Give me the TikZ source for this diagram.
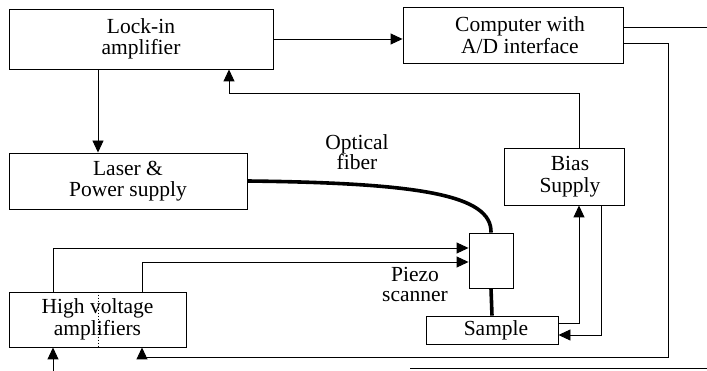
\documentclass[tikz,border=0pt]{standalone}
\usepackage{fontspec}
\setmainfont{Liberation Serif}
\usetikzlibrary{arrows.meta}
\begin{document}
\begin{tikzpicture}[x=1pt,y=-1pt,
  box/.style={draw, line width=0.9pt, rectangle, inner sep=0pt, align=center, font=\fontsize{21.5}{21.5}\selectfont},
  lbl/.style={align=center, inner sep=0pt, font=\fontsize{21.5}{20}\selectfont},
  conn/.style={line width=0.9pt},
  arr/.style={conn, -{Triangle[length=12pt,width=11pt]}},
  fiber/.style={line width=3.6pt},
  dotline/.style={line width=0.7pt, dash pattern=on 1.5pt off 1.5pt}]
\useasboundingbox (0,0) rectangle (707,371);

\node[box, minimum width=264pt, minimum height=60pt] (lock) at (141,39) {Lock-in\\amplifier};
\node[box, minimum width=220pt, minimum height=56pt] (comp) at (513,35) {\hspace*{14pt}Computer with\\\hspace*{14pt}A/D interface};
\node[box, minimum width=238pt, minimum height=56pt] (laser) at (128,181) {Laser \&\\Power supply};
\node[box, minimum width=120pt, minimum height=57pt] (bias) at (564,176.5) {\hspace*{12pt}Bias\\\hspace*{12pt}Supply};
\node[box, minimum width=44pt, minimum height=55pt] (piezo) at (491,260.5) {};
\node[box, minimum width=177pt, minimum height=55pt] (hv) at (97.5,319.5) {High voltage\\amplifiers};
\node[box, minimum width=132pt, minimum height=28pt] (sample) at (492,330) {\hspace*{8pt}Sample};

\node[lbl] (optlbl) at (357,152) {Optical\\fiber};
\node[lbl] (pzlbl) at (415,284) {Piezo\\scanner};

% lock-in -> computer
\draw[arr] (lock.east) -- (lock.east -| comp.west);
% lock-in -> laser
\coordinate (d1) at (98,0);
\draw[arr] (d1 |- lock.south) -- (d1 |- laser.north);
% computer outputs
\coordinate (r1) at (707,27);
\draw[conn] (comp.east |- r1) -- (r1);
\coordinate (a1) at (668,43);
\coordinate (a2) at (668,357);
\coordinate (a3) at (142,357);
\draw[arr] (comp.east |- a1) -- (a1) -- (a2) -- (a3) -- (a3 |- hv.south);
% bias -> lock-in
\coordinate (b1) at (579,93);
\coordinate (b2) at (229,93);
\draw[arr] (b1 |- bias.north) -- (b1) -- (b2) -- (b2 |- lock.south);
% optical fiber
\draw[fiber] (laser.east) .. controls (420,183) and (492,195) .. (piezo.north);
% HV -> piezo
\coordinate (e1) at (53,248);
\draw[arr] (e1 |- hv.north) -- (e1) -- (e1 -| piezo.west);
\coordinate (e2) at (142,262);
\draw[arr] (e2 |- hv.north) -- (e2) -- (e2 -| piezo.west);
% piezo -- sample
\draw[fiber] (piezo.south) -- (sample.north);
% sample <-> bias
\coordinate (f1) at (579,323);
\draw[arr] (f1 -| sample.east) -- (f1) -- (f1 |- bias.south);
\coordinate (g1) at (601,335);
\draw[arr] (g1 |- bias.south) -- (g1) -- (g1 -| sample.east);
% HV bottom input
\coordinate (h1) at (53,371);
\draw[arr] (h1) -- (h1 |- hv.south);
% bottom line
\coordinate (k1) at (410,368);
\coordinate (k2) at (707,368);
\draw[conn] (k1) -- (k2);
% dotted line in HV box
\draw[dotline] (d1 |- hv.north) -- (d1 |- hv.south);
\end{tikzpicture}
\end{document}
